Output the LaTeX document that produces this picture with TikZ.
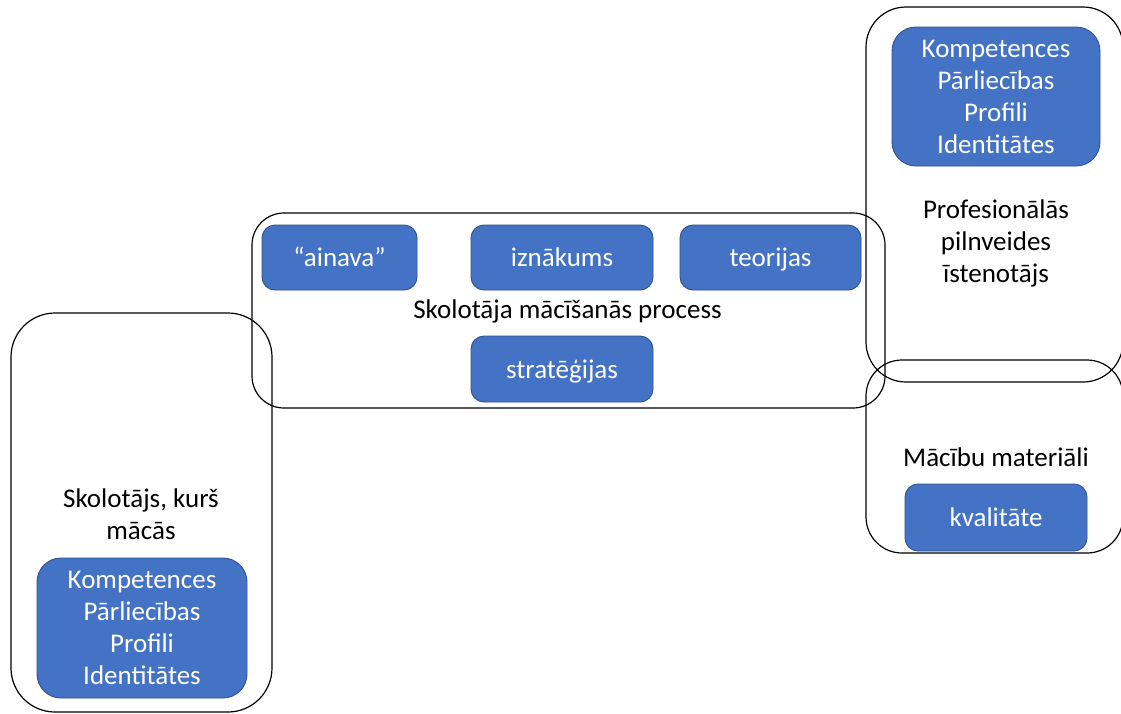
\documentclass[tikz,border=0pt]{standalone}
\usepackage{fontspec}
\setmainfont{Carlito}
\definecolor{boxblue}{HTML}{4472C4}
\definecolor{boxedge}{HTML}{2F528F}
\begin{document}
\begin{tikzpicture}[x=1pt,y=-1pt,
  group/.style={draw=black, line width=1.2pt, rounded corners=#1, inner sep=0pt},
  group/.default=36pt,
  card/.style={draw=boxedge, line width=0.9pt, fill=boxblue, text=white,
    rounded corners=#1, inner sep=0pt, align=center,
    font=\fontsize{27}{32}\selectfont},
  card/.default=13pt,
  oneline/.style={text height=24pt, text depth=6pt},
  caption/.style={align=center, inner sep=0pt, font=\fontsize{27}{32}\selectfont}]
\useasboundingbox (0,0) rectangle (1121,713);
\fill[white] (0,0) rectangle (1121,713);
\begin{scope}
\clip (0,0) rectangle (1121,713);
% outer groups
\node[group=44pt, minimum width=261pt, minimum height=399pt] (learner) at (141.5,512.5) {};
\node[group=32pt, minimum width=633pt, minimum height=195pt] (process) at (568.5,310.5) {};
\node[group=40pt, minimum width=257pt, minimum height=375pt] (provider) at (994.5,194.5) {};
\node[group=36pt, minimum width=257pt, minimum height=193pt] (materials) at (994.5,456.5) {};
% blue cards
\node[card=24pt, minimum width=208pt, minimum height=139pt] (provcard) at (996,96.5)
  {Kompetences\\Pārliecības\\Profili\\Identitātes};
\node[card=24pt, minimum width=210pt, minimum height=140pt] (learncard) at (142,628)
  {Kompetences\\Pārliecības\\Profili\\Identitātes};
\node[card, oneline, minimum width=182pt, minimum height=67pt] (quality) at (996,517.5) {kvalitāte};
\node[card, oneline, minimum width=155pt, minimum height=65pt] (landscape) at (339.5,257.5) {“ainava”};
\node[card, oneline, minimum width=182pt, minimum height=65pt] (outcome) at (562,257.5) {iznākums};
\node[card, oneline, minimum width=181pt, minimum height=65pt] (theories) at (770.5,257.5) {teorijas};
\node[card, oneline, minimum width=182pt, minimum height=66pt] (strategies) at (562,369) {stratēģijas};
% captions
\node[caption] (processlbl) at (567.5,311) {Skolotāja mācīšanās process};
\node[caption] (provlbl) at (996,243) {Profesionālās\\pilnveides\\īstenotājs};
\node[caption] (matlbl) at (996,457) {Mācību materiāli};
\node[caption] (learnlbl) at (141,514) {Skolotājs, kurš\\mācās};
\end{scope}
\end{tikzpicture}
\end{document}
